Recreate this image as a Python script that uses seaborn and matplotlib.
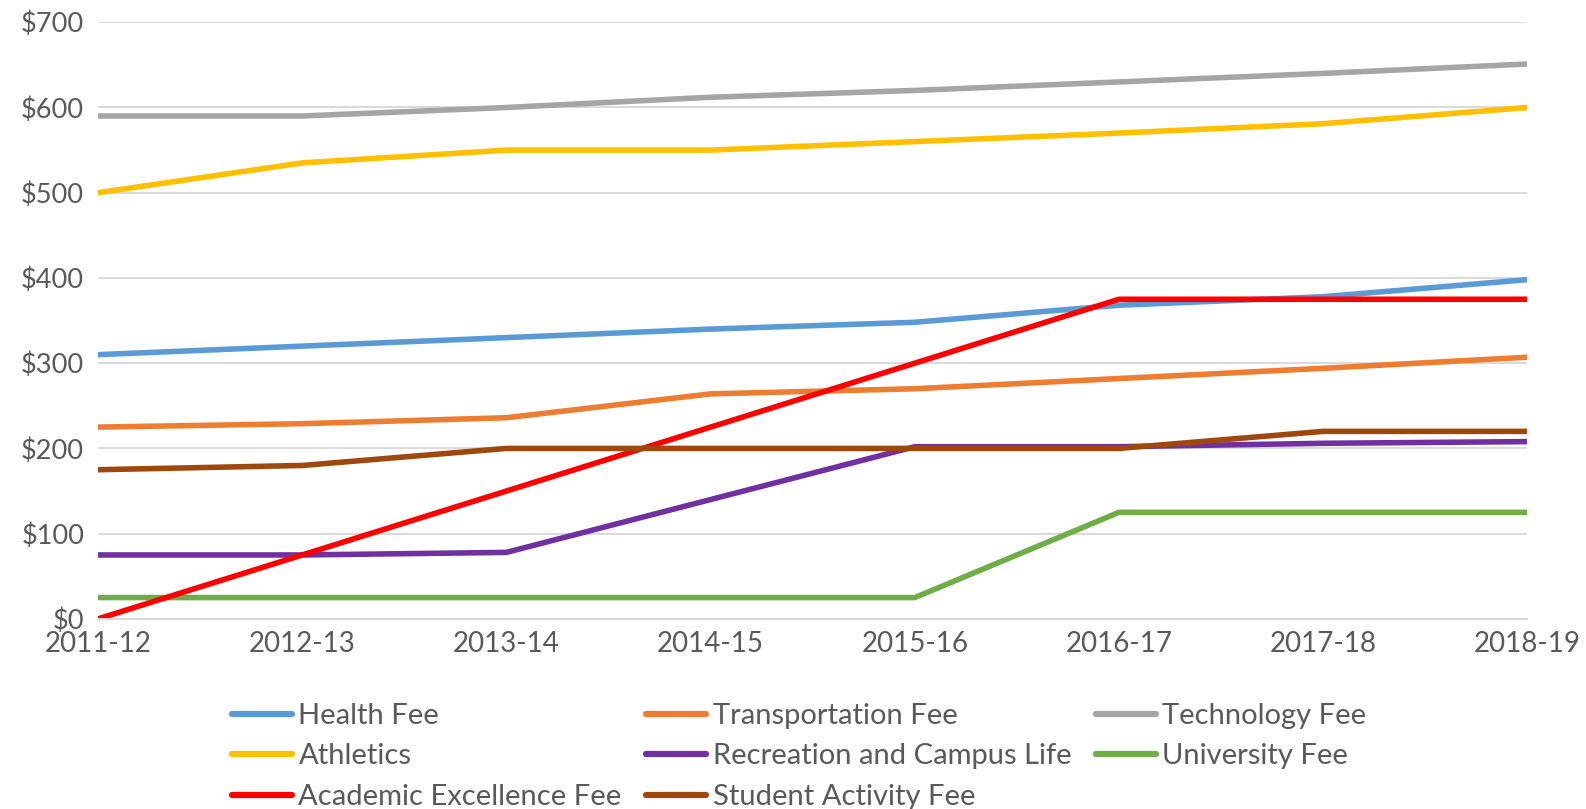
import matplotlib
matplotlib.use("Agg")
import matplotlib.pyplot as plt
import seaborn as sns
import pandas as pd
from matplotlib.ticker import FuncFormatter, MultipleLocator
from matplotlib.lines import Line2D

years = ["2011-12", "2012-13", "2013-14", "2014-15", "2015-16", "2016-17", "2017-18", "2018-19"]

health_fee = [310, 320, 330, 340, 348, 368, 378, 398]
transportation_fee = [225, 229, 236, 264, 270, 282, 294, 307]
technology_fee = [590, 590, 600, 612, 620, 630, 640, 651]
athletics = [500, 535, 550, 550, 560, 570, 581, 600]
recreation_campus_life = [75, 75, 78, 140, 202, 202, 206, 208]
university_fee = [25, 25, 25, 25, 25, 125, 125, 125]
academic_excellence_fee = [0, 75, 150, 225, 300, 375, 375, 375]
student_activity_fee = [175, 180, 200, 200, 200, 200, 220, 220]

series_names = ["Health Fee", "Transportation Fee", "Technology Fee", "Athletics",
                "Recreation and Campus Life", "University Fee",
                "Academic Excellence Fee", "Student Activity Fee"]
series_values = [health_fee, transportation_fee, technology_fee, athletics,
                 recreation_campus_life, university_fee,
                 academic_excellence_fee, student_activity_fee]
colors = ["#5B9BD5", "#ED7D31", "#A5A5A5", "#FFC000",
          "#7030A0", "#70AD47", "#FF0000", "#9E480E"]

rows = []
for name, vals in zip(series_names, series_values):
    for i, v in enumerate(vals):
        rows.append({"idx": i, "value": v, "series": name})
df = pd.DataFrame(rows)

sns.set_theme(style="white")
plt.rcParams["font.family"] = ["Lato", "DejaVu Sans"]

fig = plt.figure(figsize=(15.86, 8.09), dpi=100)
ax = fig.add_axes([0.0618, 0.235, 0.9012, 0.7375])

sns.lineplot(data=df, x="idx", y="value", hue="series", hue_order=series_names,
             palette=dict(zip(series_names, colors)), linewidth=4.0, ax=ax,
             legend=False, sort=False)

ax.set_xlim(0, len(years) - 1)
ax.set_ylim(0, 700)
ax.yaxis.set_major_locator(MultipleLocator(100))
ax.yaxis.set_major_formatter(FuncFormatter(lambda v, p: f"${int(v)}"))
ax.set_xticks(range(len(years)))
ax.set_xticklabels(years)
ax.set_xlabel("")
ax.set_ylabel("")
ax.grid(axis="y", color="#D9D9D9", linewidth=1.4)
ax.set_axisbelow(True)
for s in ["top", "right", "left"]:
    ax.spines[s].set_visible(False)
ax.spines["bottom"].set_color("#D9D9D9")
ax.spines["bottom"].set_linewidth(1.4)
ax.tick_params(axis="both", colors="#595959", length=0)
ax.tick_params(axis="y", pad=10, labelsize=19.5)
ax.tick_params(axis="x", pad=9, labelsize=20)

handles = {n: Line2D([], [], color=c, linewidth=4.5) for n, c in zip(series_names, colors)}
order = ["Health Fee", "Athletics", "Academic Excellence Fee",
         "Transportation Fee", "Recreation and Campus Life", "Student Activity Fee",
         "Technology Fee", "University Fee"]
leg = fig.legend([handles[n] for n in order], order, loc="center",
                 bbox_to_anchor=(0.504, 0.065), ncol=3, frameon=False,
                 fontsize=21, handlelength=2.05, handletextpad=0.22,
                 columnspacing=0.85, labelspacing=0.5)
for t in leg.get_texts():
    t.set_color("#595959")

fig.savefig("out.png", dpi=100)
